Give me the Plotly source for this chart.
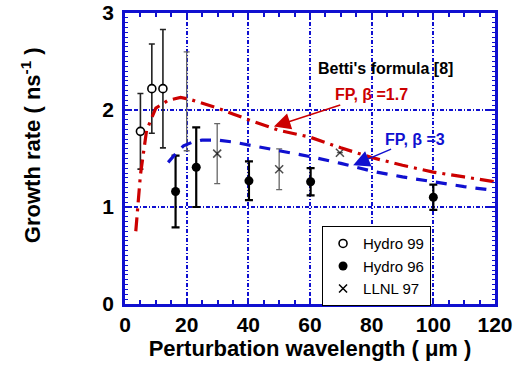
import plotly.graph_objects as go

# Hydro 99 (open circles)
h99_x = [5.0, 8.7, 12.3]
h99_y = [1.78, 2.22, 2.22]
h99_err = [0.39, 0.46, 0.61]

# Hydro 96 (filled circles)
h96_x = [16.4, 23.1, 40.2, 60.2, 100.0]
h96_y = [1.16, 1.41, 1.27, 1.26, 1.10]
h96_err = [0.37, 0.41, 0.20, 0.14, 0.13]

# LLNL 97 (crosses)
llnl_x = [20.0, 29.9, 50.0, 69.7]
llnl_y = [2.09, 1.55, 1.39, 1.56]
llnl_err = [0.51, 0.31, 0.21, 0.0]

# FP beta=1.7 curve
fp17_x = [3.5, 5, 7, 10, 14, 18, 21, 25, 30, 35, 40, 50, 60, 70, 80, 90, 100, 110, 120]
fp17_y = [0.75, 1.33, 1.79, 2.02, 2.10, 2.13, 2.11, 2.07, 2.02, 1.96, 1.90, 1.79, 1.72, 1.61, 1.51, 1.43, 1.36, 1.31, 1.26]

# FP beta=3 curve
fp3_x = [14, 17, 19, 22, 25, 30, 35, 40, 50, 60, 70, 80, 90, 100, 110, 120]
fp3_y = [1.46, 1.57, 1.63, 1.67, 1.69, 1.69, 1.67, 1.64, 1.58, 1.52, 1.45, 1.37, 1.31, 1.26, 1.21, 1.17]

FONT = "Liberation Sans, Arial, sans-serif"
BLUE = "#1010d0"
RED = "#cc0000"

OPEN_CIRCLE = dict(symbol="circle", size=8, color="white", line=dict(width=1.6, color="black"))
FILLED_CIRCLE = dict(symbol="circle", size=9, color="black")
CROSS = dict(symbol="x-thin-open", size=8, color="black", line=dict(width=1.5, color="black"))

fig = go.Figure()

fig.add_trace(go.Scatter(
    x=llnl_x, y=llnl_y, mode="markers", name="LLNL 97",
    marker=dict(CROSS, size=[0, 8, 8, 8]),
    error_y=dict(type="data", array=llnl_err, color="#666666", thickness=1.3, width=3),
    showlegend=False,
))
fig.add_trace(go.Scatter(
    x=h99_x, y=h99_y, mode="markers", name="Hydro 99",
    marker=OPEN_CIRCLE,
    error_y=dict(type="data", array=h99_err, color="#222222", thickness=1.6, width=3),
    showlegend=False,
))
fig.add_trace(go.Scatter(
    x=h96_x, y=h96_y, mode="markers", name="Hydro 96",
    marker=FILLED_CIRCLE,
    error_y=dict(type="data", array=h96_err, color="black", thickness=2.2, width=4),
    showlegend=False,
))

fig.add_trace(go.Scatter(
    x=fp17_x, y=fp17_y, mode="lines", name="FP, β=1.7",
    line=dict(color=RED, width=3.2, dash="14px,6px,3px,6px"),
    showlegend=False,
))
fig.add_trace(go.Scatter(
    x=fp3_x, y=fp3_y, mode="lines", name="FP, β=3",
    line=dict(color=BLUE, width=3.2, dash="11px,9px"),
    showlegend=False,
))

# legend-only entries
fig.add_trace(go.Scatter(x=[None], y=[None], mode="markers", name="Hydro 99", marker=OPEN_CIRCLE))
fig.add_trace(go.Scatter(x=[None], y=[None], mode="markers", name="Hydro 96", marker=FILLED_CIRCLE))
fig.add_trace(go.Scatter(x=[None], y=[None], mode="markers", name="LLNL 97", marker=CROSS))

axis_common = dict(
    showline=True, linecolor=BLUE, linewidth=2.5, mirror="allticks",
    ticks="inside", tickcolor=BLUE, ticklen=6, tickwidth=2,
    showgrid=True, gridcolor=BLUE, griddash="4px,2px,1px,2px", gridwidth=2,
    zeroline=False, automargin=False,
    tickfont=dict(family=FONT, size=21, color="black", weight="bold"),
)

fig.update_xaxes(
    range=[0, 120], tickvals=[0, 20, 40, 60, 80, 100, 120],
    minor=dict(dtick=5, ticks="inside", ticklen=4, tickcolor=BLUE, tickwidth=1.5, showgrid=False),
    title=dict(text="Perturbation wavelength ( μm )", font=dict(family=FONT, size=22, color="black", weight="bold"), standoff=6),
    **axis_common,
)
fig.update_yaxes(
    range=[0, 3], tickvals=[0, 1, 2, 3], ticklabelstandoff=4,
    minor=dict(dtick=0.05, ticks="inside", ticklen=3, tickcolor=BLUE, tickwidth=1.2, showgrid=False),
    **axis_common,
)

annotations = [
    dict(x=-0.254, y=0.546, xref="paper", yref="paper", textangle=-90,
         xanchor="center", yanchor="middle",
         text="Growth rate ( ns<sup>-1</sup> )", showarrow=False,
         font=dict(family=FONT, size=22, color="black", weight="bold")),
    dict(x=84.5, y=2.43, text="Betti's formula [8]", showarrow=False,
         font=dict(family=FONT, size=16, color="black", weight="bold")),
    dict(x=48.3, y=1.83, ax=79.8, ay=2.155, axref="x", ayref="y", text="FP, β =1.7",
         showarrow=True, arrowhead=2, arrowsize=2.2, arrowwidth=1.5, arrowcolor=RED,
         font=dict(family=FONT, size=16, color=RED, weight="bold")),
    dict(x=74.0, y=1.43, ax=93.9, ay=1.70, axref="x", ayref="y", text="FP, β =3",
         showarrow=True, arrowhead=2, arrowsize=2.2, arrowwidth=1.5, arrowcolor=BLUE,
         font=dict(family=FONT, size=16, color=BLUE, weight="bold")),
]

fig.update_layout(
    width=514, height=367,
    margin=dict(l=125, r=19, t=13, b=63),
    paper_bgcolor="white", plot_bgcolor="white",
    annotations=annotations,
    legend=dict(x=0.532, y=0.268, xanchor="left", yanchor="top",
                bgcolor="white", bordercolor="black", borderwidth=1.2,
                font=dict(family=FONT, size=15, color="black"),
                itemwidth=30, tracegroupgap=0),
    font=dict(family=FONT),
)

fig.write_html("out.html", config={"displayModeBar": False},
               post_script="document.body.style.margin='0';")
